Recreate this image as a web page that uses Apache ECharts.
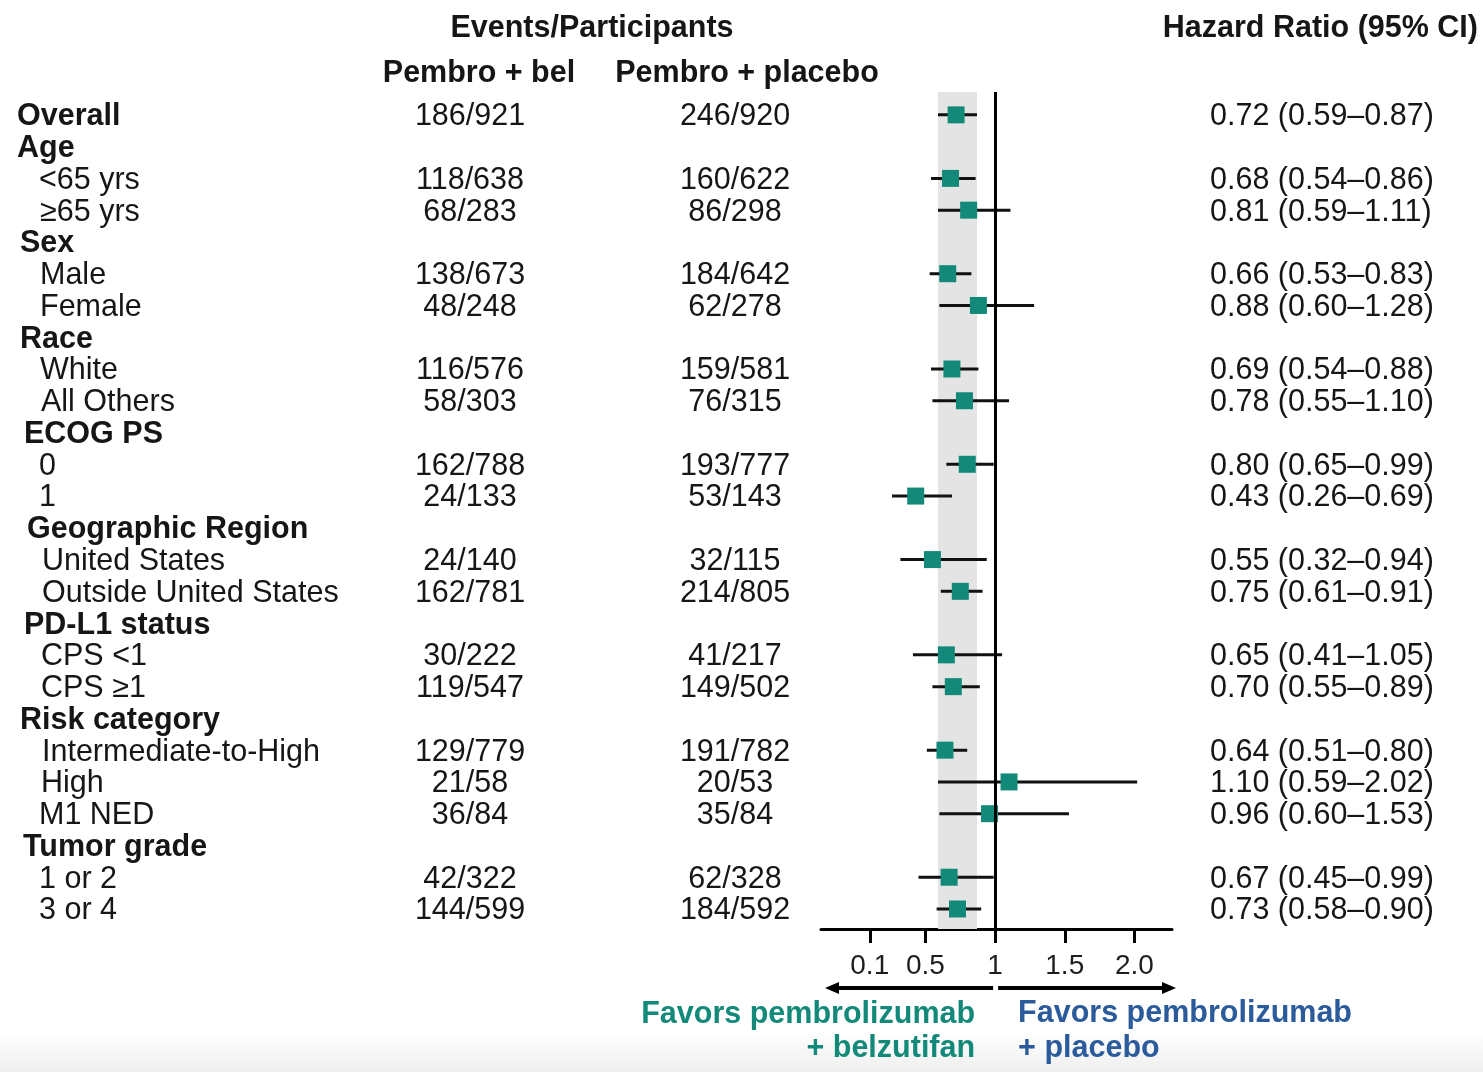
<!DOCTYPE html>
<html>
<head>
<meta charset="utf-8">
<script src="https://cdn.jsdelivr.net/npm/echarts@6/dist/echarts.min.js"></script>
<style>
html,body{margin:0;padding:0;background:#fff;}
#chart{width:1483px;height:1072px;}
</style>
</head>
<body>
<div id="chart"></div>
<script>
// ---------------- DATA ----------------
const rows = ['Overall','Age','<65 yrs','≥65 yrs','Sex','Male','Female','Race','White','All Others',
  'ECOG PS','0','1','Geographic Region','United States','Outside United States','PD-L1 status',
  'CPS <1','CPS ≥1','Risk category','Intermediate-to-High','High','M1 NED','Tumor grade','1 or 2','3 or 4'];
const headerRows = [0,1,4,7,10,13,16,19,23];
const belEvents = ['186/921','','118/638','68/283','','138/673','48/248','','116/576','58/303',
  '','162/788','24/133','','24/140','162/781','','30/222','119/547','','129/779','21/58','36/84',
  '','42/322','144/599'];
const placeboEvents = ['246/920','','160/622','86/298','','184/642','62/278','','159/581','76/315',
  '','193/777','53/143','','32/115','214/805','','41/217','149/502','','191/782','20/53','35/84',
  '','62/328','184/592'];
const hr = [0.72,null,0.68,0.81,null,0.66,0.88,null,0.69,0.78,null,0.80,0.43,null,0.55,0.75,null,
  0.65,0.70,null,0.64,1.10,0.96,null,0.67,0.73];
const lo = [0.59,null,0.54,0.59,null,0.53,0.60,null,0.54,0.55,null,0.65,0.26,null,0.32,0.61,null,
  0.41,0.55,null,0.51,0.59,0.60,null,0.45,0.58];
const hi = [0.87,null,0.86,1.11,null,0.83,1.28,null,0.88,1.10,null,0.99,0.69,null,0.94,0.91,null,
  1.05,0.89,null,0.80,2.02,1.53,null,0.99,0.90];
const xTicks = [0.1, 0.5, 1, 1.5, 2.0];
const xTickLabels = ['0.1','0.5','1','1.5','2.0'];

// ---------------- LAYOUT ----------------
const FONT = '"Liberation Sans", Arial, Helvetica, sans-serif';
const FS = '30.5px ';
const TXT = '#161616';
const TEAL = '#138a79';
const BLUE = '#2b5b9b';
const COL = {bel: 470, plc: 735, hr: 1210};
// left edge of each row label (px), matching the reference's slightly uneven indents
const labelIndent = [17,17,39,40,20,40,40,20,40,41,24,39,39,27,42,42,24,41,41,20,42,41,39,23,39,39];

const chart = echarts.init(document.getElementById('chart'), null, {renderer: 'canvas'});

const hrText = hr.map((v,i)=> v==null ? '' : v.toFixed(2)+' ('+lo[i].toFixed(2)+'–'+hi[i].toFixed(2)+')');
const tableData = rows.map((r,i)=>[1, i]);
const barData = [], pointData = [];
hr.forEach((v,i)=>{ if(v!=null){ barData.push([lo[i], hi[i], i]); pointData.push([v, i]); }});

function txt(x, y, text, opts){
  return {type:'text', style: Object.assign({x:x, y:y, text:text, fill:TXT,
    font:FS+FONT, align:'left', textAlign:'left', verticalAlign:'middle', textVerticalAlign:'middle'}, opts||{})};
}

const option = {
  animation: false,
  backgroundColor: '#ffffff',
  grid: {left: 821, right: 311, top: 92, bottom: 143, containLabel: false},
  xAxis: {
    type: 'value', min: -0.25, max: 2.27,
    splitLine: {show: false},
    axisLine: {show: true, onZero: false, lineStyle: {color: '#000', width: 3}},
    axisTick: {show: true, customValues: xTicks, length: 14, lineStyle: {color: '#000', width: 3}},
    axisLabel: {show: true, customValues: xTicks, margin: 23,
      formatter: v => xTickLabels[xTicks.indexOf(v)] ?? String(v),
      fontSize: 28, fontFamily: FONT, color: '#1e1e1e'}
  },
  yAxis: {type: 'value', inverse: true, min: -0.72, max: 25.63, show: false},
  series: [
    {
      type: 'scatter', z: 1, silent: true, symbolSize: 0,
      itemStyle: {color: 'transparent'},
      data: [[1, 0]],
      markArea: {silent: true, itemStyle: {color: '#e4e4e4'},
        data: [[{xAxis: lo[0]}, {xAxis: hi[0]}]]},
      markLine: {silent: true, symbol: ['none','none'], label: {show: false},
        lineStyle: {color: '#000', width: 3, type: 'solid'},
        data: [{xAxis: 1}]}
    },
    {
      type: 'custom', z: 2, silent: true,
      encode: {x: [0,1], y: 2},
      data: barData,
      renderItem: function(params, api){
        const a = api.coord([api.value(0), api.value(2)]);
        const b = api.coord([api.value(1), api.value(2)]);
        return {type: 'line', shape: {x1: a[0], y1: a[1], x2: b[0], y2: b[1]},
          style: {stroke: '#111', lineWidth: 3}};
      }
    },
    {
      type: 'scatter', z: 3, silent: true,
      symbol: 'rect', symbolSize: 17,
      itemStyle: {color: TEAL, opacity: 1},
      data: pointData
    },
    {
      type: 'custom', z: 4, silent: true, clip: false,
      encode: {x: 0, y: 1},
      data: tableData,
      renderItem: function(params, api){
        const i = api.value(1);
        const y = api.coord([1, i])[1] + 2;
        const isH = headerRows.indexOf(i) >= 0;
        const children = [
          txt(labelIndent[i], y, rows[i], isH ? {font: 'bold '+FS+FONT} : {}),
          txt(COL.bel, y, belEvents[i], {align:'center', textAlign:'center'}),
          txt(COL.plc, y, placeboEvents[i], {align:'center', textAlign:'center'}),
          txt(COL.hr, y, hrText[i])
        ];
        return {type: 'group', children: children};
      }
    }
  ]
};
chart.setOption(option);

// Annotations: headers, direction arrows, "favors" captions
const x1 = chart.convertToPixel({xAxisIndex: 0}, 1);
const xL = chart.convertToPixel({xAxisIndex: 0}, -0.25);
const xR = chart.convertToPixel({xAxisIndex: 0}, 2.27);
const ay = 988;
function gtxt(x, y, text, align, font, fill){
  return {type:'text', silent:true, style:{x:x, y:y, text:text, font:font, fill:fill||TXT,
    align:align, textAlign:align, verticalAlign:'middle', textVerticalAlign:'middle'}};
}
chart.setOption({
  graphic: [
    {type:'rect', silent:true, z:-10, shape:{x:0, y:1032, width:1483, height:40},
      style:{fill: new echarts.graphic.LinearGradient(0,0,0,1,[{offset:0,color:'#ffffff'},{offset:1,color:'#efefef'}])}},
    gtxt(592, 29, 'Events/Participants', 'center', 'bold '+FS+FONT),
    gtxt(479, 74, 'Pembro + bel', 'center', 'bold '+FS+FONT),
    gtxt(747, 74, 'Pembro + placebo', 'center', 'bold '+FS+FONT),
    gtxt(1478, 29, 'Hazard Ratio (95% CI)', 'right', 'bold '+FS+FONT),
    {type:'line', silent:true, shape:{x1:x1-2, y1:ay, x2:xL+14, y2:ay}, style:{stroke:'#000', lineWidth:4}},
    {type:'polygon', silent:true, shape:{points:[[xL+4,ay],[xL+18,ay-6],[xL+18,ay+6]]}, style:{fill:'#000'}},
    {type:'line', silent:true, shape:{x1:x1+3, y1:ay, x2:xR-10, y2:ay}, style:{stroke:'#000', lineWidth:4}},
    {type:'polygon', silent:true, shape:{points:[[xR+4,ay],[xR-10,ay-6],[xR-10,ay+6]]}, style:{fill:'#000'}},
    gtxt(x1-20, 1015, 'Favors pembrolizumab', 'right', 'bold '+FS+FONT, TEAL),
    gtxt(x1-20, 1049, '+ belzutifan', 'right', 'bold '+FS+FONT, TEAL),
    gtxt(x1+23, 1014, 'Favors pembrolizumab', 'left', 'bold '+FS+FONT, BLUE),
    gtxt(x1+23, 1049, '+ placebo', 'left', 'bold '+FS+FONT, BLUE)
  ]
});
</script>
</body>
</html>
